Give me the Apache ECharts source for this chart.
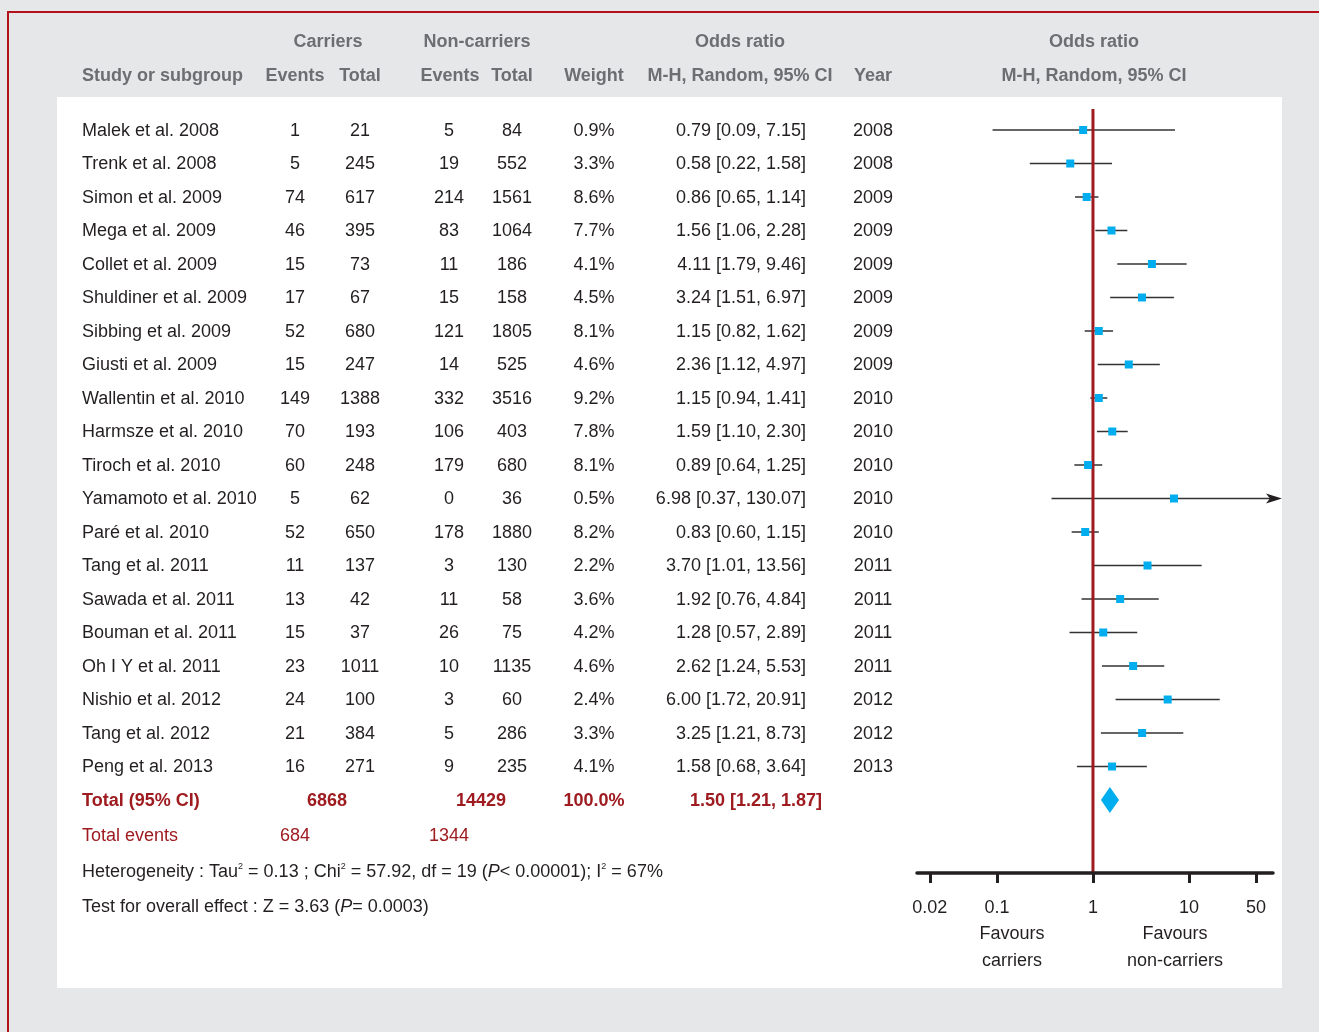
<!DOCTYPE html>
<html>
<head>
<meta charset="utf-8">
<script src="https://cdn.jsdelivr.net/npm/echarts@6/dist/echarts.min.js"></script>
<style>
html, body { margin: 0; padding: 0; background: #e6e7e9; }
#chart { width: 1319px; height: 1032px; }
</style>
</head>
<body>
<div id="chart"></div>
<script>
const studies = ["Malek et al. 2008","Trenk et al. 2008","Simon et al. 2009","Mega et al. 2009","Collet et al. 2009",
   "Shuldiner et al. 2009","Sibbing et al. 2009","Giusti et al. 2009","Wallentin et al. 2010","Harmsze et al. 2010",
   "Tiroch et al. 2010","Yamamoto et al. 2010","Paré et al. 2010","Tang et al. 2011","Sawada et al. 2011",
   "Bouman et al. 2011","Oh I Y et al. 2011","Nishio et al. 2012","Tang et al. 2012","Peng et al. 2013"];
const carrierEvents = [1,5,74,46,15,17,52,15,149,70,60,5,52,11,13,15,23,24,21,16];
const carrierTotal = [21,245,617,395,73,67,680,247,1388,193,248,62,650,137,42,37,1011,100,384,271];
const nonEvents = [5,19,214,83,11,15,121,14,332,106,179,0,178,3,11,26,10,3,5,9];
const nonTotal = [84,552,1561,1064,186,158,1805,525,3516,403,680,36,1880,130,58,75,1135,60,286,235];
const weights = [0.9,3.3,8.6,7.7,4.1,4.5,8.1,4.6,9.2,7.8,8.1,0.5,8.2,2.2,3.6,4.2,4.6,2.4,3.3,4.1];
const oddsRatio = [0.79,0.58,0.86,1.56,4.11,3.24,1.15,2.36,1.15,1.59,0.89,6.98,0.83,3.70,1.92,1.28,2.62,6.00,3.25,1.58];
const ciLow = [0.09,0.22,0.65,1.06,1.79,1.51,0.82,1.12,0.94,1.10,0.64,0.37,0.60,1.01,0.76,0.57,1.24,1.72,1.21,0.68];
const ciHigh = [7.15,1.58,1.14,2.28,9.46,6.97,1.62,4.97,1.41,2.30,1.25,130.07,1.15,13.56,4.84,2.89,5.53,20.91,8.73,3.64];
const years = [2008,2008,2009,2009,2009,2009,2009,2009,2010,2010,2010,2010,2010,2011,2011,2011,2011,2012,2012,2013];

const pooled = [1.50, 1.21, 1.87];
const totalCarriers = 6868, totalNon = 14429;
const eventsCarriers = 684, eventsNon = 1344;
const totalWeight = '100.0%';
const axisTicks = [0.02, 0.1, 1, 10, 50];

const FONT = '"Liberation Sans", Arial, sans-serif';
const FS = 18;
const INK = '#231f20', GREY = '#6d6e71', RED = '#9e1b20', BLUE = '#00aeef';

// both grids share the same row -> pixel mapping
const ROW_TOP = 113.25, ROW_H = 33.5;
const X_MIN = 0.0147, X_MAX = 75, ARROW_TIP = 93;
const FOREST_Y_MAX = -0.5 + (873 - ROW_TOP) / ROW_H;

const fmt2 = v => v.toFixed(2);
const ciText = (o, l, h) => fmt2(o) + ' [' + fmt2(l) + ', ' + fmt2(h) + ']';

const cell = (x, row, text, anchor) => ({
   value: [x, row],
   name: String(text),
   label: { position: anchor === 'left' ? 'right' : anchor === 'right' ? 'left' : 'inside' }
});

const textSeries = (data, color, weight) => ({
   type: 'scatter', xAxisIndex: 1, yAxisIndex: 1, symbolSize: 0, silent: true, clip: false, z: 5,
   itemStyle: { opacity: 1 },
   label: {
      show: true, distance: 0, formatter: p => p.name, opacity: 1, offset: [0, 1],
      fontFamily: FONT, fontSize: FS, color: color, fontWeight: weight || 'normal',
      rich: {
         t: { fontFamily: FONT, fontSize: FS, color: color, lineHeight: 20 },
         s: { fontFamily: FONT, fontSize: 9, color: color, lineHeight: 11, verticalAlign: 'top' },
         i: { fontFamily: FONT, fontSize: FS, color: color, lineHeight: 20, fontStyle: 'italic' }
      }
   },
   data: data
});

// header cells
const head1 = -2.657, head2 = -1.642;
const headerCells = [
   cell(328, head1, 'Carriers'), cell(477, head1, 'Non-carriers'),
   cell(740, head1, 'Odds ratio'), cell(1094, head1, 'Odds ratio'),
   cell(82, head2, 'Study or subgroup', 'left'), cell(295, head2, 'Events'), cell(360, head2, 'Total'),
   cell(450, head2, 'Events'), cell(512, head2, 'Total'), cell(594, head2, 'Weight'),
   cell(740, head2, 'M-H, Random, 95% CI'), cell(873, head2, 'Year'), cell(1094, head2, 'M-H, Random, 95% CI')
];

// body cells
const bodyCells = [];
studies.forEach((s, i) => {
   bodyCells.push(cell(82, i, s, 'left'));
   bodyCells.push(cell(295, i, carrierEvents[i]));
   bodyCells.push(cell(360, i, carrierTotal[i]));
   bodyCells.push(cell(449, i, nonEvents[i]));
   bodyCells.push(cell(512, i, nonTotal[i]));
   bodyCells.push(cell(594, i, weights[i].toFixed(1) + '%'));
   bodyCells.push(cell(806, i, ciText(oddsRatio[i], ciLow[i], ciHigh[i]), 'right'));
   bodyCells.push(cell(873, i, years[i]));
});
const totalCells = [
   cell(82, 20, 'Total (95% CI)', 'left'), cell(327, 20, totalCarriers), cell(481, 20, totalNon),
   cell(594, 20, totalWeight),
   cell(822, 20, ciText(pooled[0], pooled[1], pooled[2]), 'right')
];
const eventCells = [
   cell(82, 21.05, 'Total events', 'left'), cell(295, 21.05, eventsCarriers), cell(449, 21.05, eventsNon)
];
const noteCells = [
   cell(82, 22.13, '{t|Heterogeneity : Tau}{s|2}{t| = 0.13 ; Chi}{s|2}{t| = 57.92, df = 19 (}{i|P}{t|< 0.00001); I}{s|2}{t| = 67%}', 'left'),
   cell(82, 23.17, '{t|Test for overall effect : Z = 3.63 (}{i|P}{t|= 0.0003)}', 'left'),
   cell(1012, 24.37, '{t|Favours}\n{t|carriers}'),
   cell(1175, 24.37, '{t|Favours}\n{t|non-carriers}')
];
noteCells[2].label.rich = { t: { lineHeight: 27 } };
noteCells[3].label.rich = { t: { lineHeight: 27 } };

const chart = echarts.init(document.getElementById('chart'));
const option = {
   animation: false,
   backgroundColor: '#e6e7e9',
   graphic: [
      { type: 'rect', shape: { x: 57, y: 97, width: 1225, height: 891 }, style: { fill: '#ffffff' }, z: -10 },
      { type: 'rect', shape: { x: 7, y: 11, width: 1312, height: 2 }, style: { fill: '#b3121c' }, z: -5 },
      { type: 'rect', shape: { x: 7, y: 11, width: 2, height: 1021 }, style: { fill: '#b3121c' }, z: -5 }
   ],
   grid: [
      { left: 917, width: 356, top: ROW_TOP, height: 873 - ROW_TOP },
      { left: 0, width: 1319, top: ROW_TOP - 3 * ROW_H, height: 29 * ROW_H }
   ],
   xAxis: [
      {
         type: 'log', logBase: 10, gridIndex: 0, min: X_MIN, max: X_MAX, z: 20,
         axisLine: { show: true, onZero: false, lineStyle: { color: INK, width: 3.5 } },
         axisTick: { show: true, customValues: axisTicks, length: 10, lineStyle: { color: INK, width: 3 } },
         axisLabel: { customValues: axisTicks, formatter: v => String(v), margin: 26,
            fontFamily: FONT, fontSize: FS, color: INK },
         splitLine: { show: false }, minorTick: { show: false }
      },
      { type: 'value', gridIndex: 1, min: 0, max: 1319, show: false }
   ],
   yAxis: [
      { type: 'value', gridIndex: 0, inverse: true, min: -0.5, max: FOREST_Y_MAX, show: false },
      { type: 'value', gridIndex: 1, inverse: true, min: -3.5, max: 25.5, show: false }
   ],
   series: [
      textSeries(headerCells, GREY, 'bold'),
      textSeries(bodyCells, INK),
      textSeries(totalCells, RED, 'bold'),
      textSeries(eventCells, RED),
      textSeries(noteCells, INK),
      {
         // confidence interval whiskers
         type: 'custom', xAxisIndex: 0, yAxisIndex: 0, clip: false, silent: true, z: 2,
         data: studies.map((s, i) => [oddsRatio[i], i, ciLow[i], ciHigh[i]]),
         encode: { x: 0, y: 1 },
         renderItem: (params, api) => {
            const row = api.value(1), lo = api.value(2), hi = api.value(3);
            const capped = hi > X_MAX;
            const y = api.coord([1, row])[1];
            const x1 = api.coord([lo, row])[0];
            const x2 = api.coord([capped ? ARROW_TIP : hi, row])[0];
            const children = [{
               type: 'line', shape: { x1: x1, y1: y, x2: capped ? x2 - 10 : x2, y2: y },
               style: { stroke: '#333333', lineWidth: 1.5 }
            }];
            if (capped) {
               children.push({
                  type: 'polygon',
                  shape: { points: [[x2, y], [x2 - 16, y - 5], [x2 - 12, y], [x2 - 16, y + 5]] },
                  style: { fill: INK }
               });
            }
            return { type: 'group', children: children };
         }
      },
      {
         // line of no effect
         type: 'custom', xAxisIndex: 0, yAxisIndex: 0, clip: false, silent: true, z: 3,
         data: [[1]],
         renderItem: (params, api) => {
            const top = api.coord([api.value(0), -0.627]);
            const bot = api.coord([api.value(0), FOREST_Y_MAX]);
            return { type: 'line', shape: { x1: top[0], y1: top[1], x2: bot[0], y2: bot[1] },
               style: { stroke: RED, lineWidth: 3 } };
         }
      },
      {
         // study point estimates
         type: 'custom', xAxisIndex: 0, yAxisIndex: 0, clip: false, silent: true, z: 4,
         data: studies.map((s, i) => [oddsRatio[i], i]),
         encode: { x: 0, y: 1 },
         renderItem: (params, api) => {
            const c = api.coord([api.value(0), api.value(1)]);
            return { type: 'rect', shape: { x: c[0] - 4, y: c[1] - 4, width: 8, height: 8 },
               style: { fill: BLUE } };
         }
      },
      {
         // pooled estimate diamond
         type: 'custom', xAxisIndex: 0, yAxisIndex: 0, clip: false, silent: true, z: 4,
         data: [[pooled[0], 20, pooled[1], pooled[2]]],
         encode: { x: 0, y: 1 },
         renderItem: (params, api) => {
            const row = api.value(1);
            const c = api.coord([api.value(0), row]);
            const l = api.coord([api.value(2), row]);
            const r = api.coord([api.value(3), row]);
            return { type: 'polygon',
               shape: { points: [[l[0], c[1]], [c[0], c[1] - 13], [r[0], c[1]], [c[0], c[1] + 13]] },
               style: { fill: BLUE } };
         }
      }
   ]
};
chart.setOption(option);
</script>
</body>
</html>
